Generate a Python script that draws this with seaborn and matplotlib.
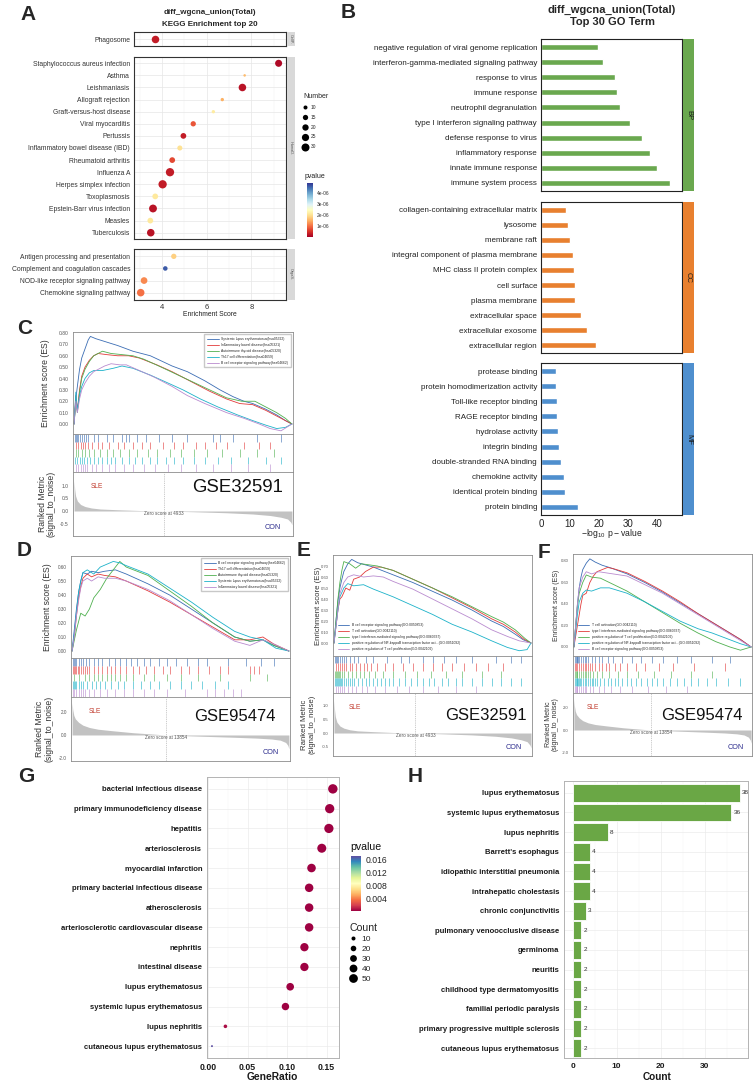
import numpy as np
import pandas as pd
import matplotlib
matplotlib.use("Agg")
import matplotlib.pyplot as plt
import seaborn as sns
from matplotlib.lines import Line2D
from matplotlib.colors import Normalize
from matplotlib.cm import ScalarMappable

W, H = 756, 1084

# ---------------- A: KEGG enrichment top 20 (faceted dot plot)
kegg_terms = ["Phagosome",
              "Staphylococcus aureus infection", "Asthma", "Leishmaniasis", "Allograft rejection",
              "Graft-versus-host disease", "Viral myocarditis", "Pertussis",
              "Inflammatory bowel disease (IBD)", "Rheumatoid arthritis", "Influenza A",
              "Herpes simplex infection", "Toxoplasmosis", "Epstein-Barr virus infection", "Measles",
              "Tuberculosis",
              "Antigen processing and presentation", "Complement and coagulation cascades",
              "NOD-like receptor signaling pathway", "Chemokine signaling pathway"]
kegg_group = ["CellP."] + ["HumaD."] * 15 + ["OrgaS."] * 4
kegg_score = [3.69, 9.22, 7.70, 7.60, 6.70, 6.30, 5.40, 4.96, 4.80, 4.46, 4.36, 4.03, 3.70, 3.60,
              3.48, 3.50, 4.53, 4.15, 3.20, 3.05]
kegg_number = [27, 24, 6, 27, 8, 8, 15, 17, 14, 17, 33, 32, 17, 29, 17, 27, 15, 12, 22, 27]
kegg_pvalue = [3e-7, 1e-7, 1.6e-6, 2e-7, 1.5e-6, 2.15e-6, 8e-7, 3e-7, 2.0e-6, 7e-7, 3e-7, 3e-7,
               2.1e-6, 2e-7, 2.1e-6, 2e-7, 1.8e-6, 4.6e-6, 1.2e-6, 1.0e-6]
number_breaks = [10, 15, 20, 25, 30]
kegg_p_ticks = [1e-6, 2e-6, 3e-6, 4e-6]

# ---------------- B: top 30 GO terms
go_terms = ["negative regulation of viral genome replication", "interferon-gamma-mediated signaling pathway",
            "response to virus", "immune response", "neutrophil degranulation",
            "type I interferon signaling pathway", "defense response to virus", "inflammatory response",
            "innate immune response", "immune system process",
            "collagen-containing extracellular matrix", "lysosome", "membrane raft",
            "integral component of plasma membrane", "MHC class II protein complex", "cell surface",
            "plasma membrane", "extracellular space", "extracellular exosome", "extracellular region",
            "protease binding", "protein homodimerization activity", "Toll-like receptor binding",
            "RAGE receptor binding", "hydrolase activity", "integrin binding",
            "double-stranded RNA binding", "chemokine activity", "identical protein binding",
            "protein binding"]
go_ont = ["BP"] * 10 + ["CC"] * 10 + ["MF"] * 10
go_logp = [19.5, 21.5, 25.6, 26.1, 27.2, 30.8, 34.8, 37.7, 39.9, 44.5,
           8.5, 9.3, 10.0, 11.1, 11.4, 11.6, 11.7, 13.7, 16.0, 18.9,
           5.2, 5.3, 5.4, 5.5, 6.0, 6.2, 7.0, 7.9, 8.2, 12.7]

# ---------------- C-F: GSEA (x = position in ranked gene list, %)
c_names = ["Systemic lupus erythematosus(hsa05322)", "Inflammatory bowel disease(hsa05321)",
           "Autoimmune thyroid disease(hsa05320)", "Th17 cell differentiation(hsa04659)",
           "B cell receptor signaling pathway(hsa04662)"]
c_es_x = [[0, 0.8, 1.5, 2.5, 3.5, 5, 6.5, 7.5, 10, 15, 20, 27, 35, 45, 52, 60, 67, 73, 78, 82, 88, 93, 97, 100],
          [0, 0.8, 1.5, 2.5, 3.5, 5, 7, 9, 11, 15, 20, 25, 30, 38, 45, 52, 62, 70, 76, 82, 88, 93, 97, 100],
          [0, 0.8, 1.5, 2.5, 3.5, 5, 7, 9, 11, 13, 17, 22, 27, 32, 40, 50, 60, 70, 77, 83, 88, 93, 97, 100],
          [0, 0.8, 1.5, 2.5, 3.5, 5, 7, 9, 13, 18, 22, 27, 35, 42, 50, 58, 66, 75, 82, 88, 93, 97, 100],
          [0, 0.8, 1.5, 2.5, 3.5, 5, 7, 9, 11, 14, 17, 21, 24, 30, 37, 45, 52, 60, 70, 78, 85, 90, 95, 100]]
c_es_y = [[0, 0.22, 0.33, 0.48, 0.58, 0.66, 0.74, 0.77, 0.75, 0.72, 0.69, 0.64, 0.6, 0.51, 0.46, 0.38, 0.3, 0.24, 0.2, 0.18, 0.13, 0.08, 0.03, 0],
          [0, 0.25, 0.12, 0.3, 0.42, 0.5, 0.56, 0.6, 0.62, 0.61, 0.6, 0.6, 0.58, 0.52, 0.46, 0.39, 0.29, 0.22, 0.18, 0.17, 0.12, 0.07, 0.03, 0],
          [0, 0.2, 0.1, 0.28, 0.4, 0.48, 0.55, 0.6, 0.62, 0.64, 0.62, 0.61, 0.6, 0.57, 0.5, 0.41, 0.32, 0.23, 0.2, 0.2, 0.15, 0.1, 0.05, 0],
          [0, 0.28, 0.12, 0.25, 0.33, 0.4, 0.45, 0.47, 0.47, 0.49, 0.51, 0.49, 0.43, 0.37, 0.3, 0.22, 0.15, 0.08, 0.03, -0.01, -0.04, -0.03, 0],
          [0, 0.2, 0.1, 0.22, 0.3, 0.36, 0.42, 0.46, 0.48, 0.51, 0.53, 0.52, 0.52, 0.47, 0.41, 0.33, 0.25, 0.18, 0.1, 0.05, 0.0, -0.04, -0.06, 0]]
c_hits = [[0.5, 1, 1.5, 2, 2.8, 3.5, 4.5, 5.5, 6.5, 9, 11, 15, 18, 22, 24, 25, 29, 33, 39, 45, 52, 64, 67, 73, 84, 95],
          [1, 2, 3, 4, 5, 6.5, 8, 11, 13, 16, 20, 23, 27, 31, 35, 41, 46, 50, 56, 60, 65, 70, 78, 85, 90],
          [1, 2, 3.5, 5, 7, 9, 12, 15, 18, 21, 25, 29, 34, 38, 44, 49, 55, 61, 68, 76, 84, 92],
          [0.5, 1.5, 2.5, 3.5, 4.5, 6, 7.5, 9, 11, 13, 15, 17, 19, 22, 25, 28, 31, 35, 38, 42, 46, 50, 55, 60, 66, 72, 80, 88, 95],
          [1, 2, 3, 4, 5, 6, 8, 10, 13, 16, 19, 23, 27, 32, 37, 43, 49, 56, 64, 72, 80, 90]]

d_names = ["B cell receptor signaling pathway(hsa04662)", "Th17 cell differentiation(hsa04659)",
           "Autoimmune thyroid disease(hsa05320)", "Systemic lupus erythematosus(hsa05322)",
           "Inflammatory bowel disease(hsa05321)"]
d_es_x = [[0, 1, 2, 3, 4, 5, 7, 9, 12, 15, 20, 25, 35, 45, 55, 65, 75, 82, 88, 93, 100],
          [0, 1, 2, 3, 4, 5, 7, 9, 12, 15, 20, 25, 35, 45, 55, 65, 75, 82, 88, 93, 100],
          [0, 2, 4, 6, 8, 10, 13, 16, 19, 22, 25, 35, 45, 55, 65, 75, 82, 88, 93, 100],
          [0, 1, 2, 3, 4, 5, 7, 10, 13, 16, 19, 22, 25, 35, 45, 55, 65, 75, 82, 88, 94, 100],
          [0, 1, 2, 3, 4, 5, 7, 9, 12, 15, 20, 25, 35, 45, 55, 65, 75, 82, 88, 93, 100]]
d_es_y = [[0, 0.15, 0.3, 0.42, 0.5, 0.56, 0.55, 0.57, 0.56, 0.57, 0.58, 0.55, 0.48, 0.4, 0.3, 0.2, 0.1, 0.07, 0.08, 0.04, 0],
          [0, 0.1, 0.25, 0.38, 0.46, 0.52, 0.55, 0.53, 0.55, 0.54, 0.53, 0.5, 0.43, 0.35, 0.26, 0.17, 0.08, 0.08, 0.1, 0.05, 0],
          [0, 0.15, 0.27, 0.25, 0.3, 0.38, 0.44, 0.52, 0.58, 0.64, 0.6, 0.54, 0.43, 0.32, 0.2, 0.1, 0.07, 0.08, 0.04, 0],
          [0, 0.12, 0.28, 0.42, 0.5, 0.56, 0.58, 0.55, 0.6, 0.62, 0.64, 0.63, 0.61, 0.55, 0.45, 0.35, 0.24, 0.14, 0.1, 0.08, 0.02, 0],
          [0, 0.1, 0.25, 0.36, 0.45, 0.5, 0.52, 0.5, 0.53, 0.52, 0.52, 0.5, 0.44, 0.36, 0.26, 0.16, 0.07, 0.04, 0.08, 0.05, 0]]
d_hits = [[0.5, 1, 1.5, 2, 3, 4, 5, 6.5, 8, 10, 12, 14, 17, 20, 22, 25, 27, 30, 33, 36, 40, 44, 48, 53, 58, 62, 72, 80, 87, 93],
          [0.5, 1, 1.5, 2, 2.5, 3, 4, 5, 6, 7, 8, 10, 12, 14, 16, 18, 20, 22, 25, 28, 31, 34, 38, 42, 45, 50, 54, 58, 63, 68, 72, 82, 84, 86],
          [1, 3, 6, 8, 10, 12, 14, 16, 18, 20, 22, 25, 28, 33, 38, 44, 50, 58, 68, 82, 90],
          [0.5, 1, 1.5, 2, 3, 4, 5, 7, 9, 11, 13, 15, 18, 21, 24, 28, 32, 36, 40, 45, 50, 55, 60, 66, 72],
          [0.5, 1, 2, 3, 4, 5, 6, 8, 10, 13, 16, 20, 24, 28, 33, 38, 44, 52, 62, 66, 70, 74, 78]]

e_names = ["B cell receptor signaling pathway(GO:0050853)", "T cell activation(GO:0042110)",
           "type I interferon-mediated signaling pathway(GO:0060337)",
           "positive regulation of NF-kappaB transcription factor act...(GO:0051092)",
           "positive regulation of T cell proliferation(GO:0042102)"]
e_es_x = [[0, 1, 2, 3, 4, 5, 7, 9, 12, 16, 20, 30, 40, 50, 60, 70, 80, 86, 92, 96, 100],
          [0, 1, 2, 3, 4, 6, 8, 10, 13, 16, 20, 24, 30, 40, 50, 60, 70, 80, 86, 92, 96, 100],
          [0, 1, 2, 3, 4, 5, 8, 11, 14, 18, 22, 30, 40, 50, 60, 70, 80, 86, 92, 97, 100],
          [0, 1, 2, 3, 5, 7, 10, 15, 20, 30, 40, 50, 60, 70, 80, 88, 94, 98, 100],
          [0, 1, 2, 3, 5, 7, 10, 15, 20, 25, 30, 40, 50, 60, 70, 80, 88, 94, 100]]
e_es_y = [[0, 0.2, 0.38, 0.5, 0.58, 0.65, 0.72, 0.76, 0.73, 0.71, 0.69, 0.62, 0.55, 0.47, 0.39, 0.3, 0.2, 0.15, 0.08, 0.03, 0],
          [0, 0.15, 0.3, 0.4, 0.42, 0.5, 0.48, 0.58, 0.6, 0.65, 0.69, 0.69, 0.66, 0.58, 0.5, 0.41, 0.32, 0.22, 0.17, 0.1, 0.04, 0],
          [0, 0.2, 0.4, 0.55, 0.66, 0.74, 0.72, 0.68, 0.72, 0.71, 0.7, 0.66, 0.58, 0.5, 0.42, 0.33, 0.24, 0.19, 0.12, 0.04, 0],
          [0, 0.15, 0.3, 0.42, 0.5, 0.54, 0.52, 0.53, 0.49, 0.42, 0.34, 0.26, 0.17, 0.1, 0.02, -0.04, -0.07, -0.06, 0],
          [0, 0.15, 0.3, 0.45, 0.55, 0.6, 0.62, 0.6, 0.61, 0.6, 0.56, 0.49, 0.4, 0.31, 0.22, 0.12, 0.06, 0.02, 0]]
e_hits = [[0.5, 1, 1.5, 2, 3, 4, 5, 6, 8, 10, 12, 16, 20, 27, 34, 38, 45, 50, 56, 62, 70, 82, 90, 95],
          [1, 2, 3, 4, 5, 6, 8, 9, 11, 13, 15, 17, 19, 22, 26, 30, 35, 40, 45, 50, 55, 60, 66, 72, 78, 86],
          [0.5, 1, 1.5, 2, 2.5, 3, 4, 5, 7, 9, 11, 13, 15, 18, 21, 25, 30, 36, 42, 49, 57, 65, 75, 85],
          [0.5, 1, 1.5, 2, 2.5, 3, 3.5, 4, 5, 6, 7, 8, 9, 10, 12, 14, 16, 18, 20, 22, 24, 26, 28, 30, 33, 36, 39, 42, 45, 48, 51, 55, 58, 62, 65, 70, 75, 80, 85, 90, 95],
          [1, 2, 3, 4, 5, 7, 9, 11, 14, 17, 21, 26, 32, 38, 45, 53, 62, 72]]

f_names = ["T cell activation(GO:0042110)", "type I interferon-mediated signaling pathway(GO:0060337)",
           "positive regulation of T cell proliferation(GO:0042102)",
           "positive regulation of NF-kappaB transcription factor act...(GO:0051092)",
           "B cell receptor signaling pathway(GO:0050853)"]
f_es_x = [[0, 1, 2, 3, 4, 5, 7, 9, 12, 16, 20, 30, 40, 50, 60, 70, 80, 88, 94, 100],
          [0, 1, 2, 3, 4, 5, 7, 9, 11, 13, 16, 19, 22, 30, 40, 50, 60, 70, 80, 88, 94, 100],
          [0, 1, 2, 3, 5, 7, 10, 15, 20, 30, 40, 50, 60, 70, 80, 88, 94, 100],
          [0, 1, 2, 3, 5, 7, 10, 15, 20, 30, 40, 50, 60, 70, 78, 86, 94, 100],
          [0, 1, 2, 3, 5, 7, 10, 14, 18, 22, 30, 40, 50, 60, 70, 80, 88, 94, 100]]
f_es_y = [[0, 0.2, 0.4, 0.55, 0.65, 0.72, 0.78, 0.82, 0.79, 0.76, 0.74, 0.68, 0.6, 0.51, 0.41, 0.31, 0.21, 0.13, 0.07, 0],
          [0, 0.1, 0.2, 0.3, 0.4, 0.48, 0.5, 0.6, 0.66, 0.7, 0.72, 0.74, 0.73, 0.69, 0.61, 0.52, 0.42, 0.31, 0.21, 0.13, 0.07, 0],
          [0, 0.2, 0.38, 0.5, 0.6, 0.67, 0.65, 0.64, 0.6, 0.52, 0.42, 0.32, 0.22, 0.13, 0.05, 0.0, -0.03, 0],
          [0, 0.15, 0.3, 0.42, 0.5, 0.53, 0.52, 0.55, 0.55, 0.5, 0.42, 0.33, 0.24, 0.17, 0.13, 0.08, 0.03, 0],
          [0, 0.2, 0.4, 0.55, 0.65, 0.7, 0.68, 0.7, 0.69, 0.68, 0.66, 0.58, 0.5, 0.4, 0.3, 0.2, 0.12, 0.06, 0]]
f_hits = [[0.5, 1, 1.5, 2, 2.5, 3, 4, 5, 6, 7, 8, 10, 12, 14, 16, 19, 22, 27, 33, 38, 44, 50, 58, 66, 78, 88],
          [0.5, 1, 2, 3, 4, 5, 6, 7, 8, 9, 10, 12, 14, 16, 18, 20, 23, 26, 30, 35, 40, 48, 56, 68, 85],
          [0.5, 1, 1.5, 2, 3, 4, 5, 6, 7, 8, 9, 11, 13, 16, 20, 25, 30, 36, 45, 55, 66, 78],
          [0.5, 1, 1.5, 2, 2.5, 3, 3.5, 4, 5, 6, 7, 8, 9, 10, 11, 12, 13, 15, 17, 19, 21, 23, 25, 27, 30, 32, 35, 38, 41, 44, 47, 50, 54, 58, 62, 66, 70, 75, 80, 87, 94],
          [0.5, 1, 1.5, 2, 3, 4, 5, 6, 7, 9, 11, 14, 17, 21, 26, 33, 42, 52, 64]]

# ranked metric (signal_to_noise) of the two datasets
rank_x_32591 = [0, 0.3, 0.7, 1.5, 3, 5, 8, 12, 20, 30, 41.3, 55, 70, 82, 90, 95, 98, 99.5, 100]
rank_y_32591 = [1.2, 0.85, 0.6, 0.4, 0.26, 0.18, 0.12, 0.08, 0.05, 0.02, 0, -0.03, -0.07, -0.12, -0.18, -0.25, -0.32, -0.45, -0.55]
zero_32591 = 41.3
rank_x_95474 = [0, 0.3, 0.8, 1.5, 3, 5, 8, 12, 18, 28, 43.4, 55, 65, 75, 85, 92, 96, 98.5, 99.5, 100]
rank_y_95474 = [2.8, 2.2, 1.7, 1.4, 1.1, 0.85, 0.65, 0.5, 0.38, 0.2, 0, -0.08, -0.14, -0.2, -0.27, -0.35, -0.45, -0.65, -0.9, -1.2]
zero_95474 = 43.4

# ---------------- G: disease enrichment dot plot
do_terms = ["bacterial infectious disease", "primary immunodeficiency disease", "hepatitis",
            "arteriosclerosis", "myocardial infarction", "primary bacterial infectious disease",
            "atherosclerosis", "arteriosclerotic cardiovascular disease", "nephritis",
            "intestinal disease", "lupus erythematosus", "systemic lupus erythematosus",
            "lupus nephritis", "cutaneous lupus erythematosus"]
do_ratio = [0.158, 0.154, 0.153, 0.144, 0.131, 0.128, 0.128, 0.128, 0.122, 0.122, 0.104, 0.098, 0.022, 0.005]
do_count = [58, 56, 56, 53, 48, 47, 47, 47, 45, 45, 38, 36, 8, 2]
do_pvalue = [1e-9, 1e-9, 1e-9, 2e-9, 5e-9, 5e-9, 5e-9, 5e-9, 1e-8, 1e-8, 1e-9, 1e-9, 4e-4, 0.0172]
count_breaks = [10, 20, 30, 40, 50]
do_p_ticks = [0.004, 0.008, 0.012, 0.016]

# ---------------- H: disease gene counts
h_terms = ["lupus erythematosus", "systemic lupus erythematosus", "lupus nephritis", "Barrett's esophagus",
           "idiopathic interstitial pneumonia", "intrahepatic cholestasis", "chronic conjunctivitis",
           "pulmonary venoocclusive disease", "germinoma", "neuritis", "childhood type dermatomyositis",
           "familial periodic paralysis", "primary progressive multiple sclerosis",
           "cutaneous lupus erythematosus"]
h_counts = [38, 36, 8, 4, 4, 4, 3, 2, 2, 2, 2, 2, 2, 2]

sns.set_style("white")
plt.rcParams["font.family"] = ["Liberation Sans", "DejaVu Sans"]
plt.rcParams["mathtext.fontset"] = "custom"
plt.rcParams["mathtext.rm"] = "Liberation Sans"

fig = plt.figure(figsize=(W / 100, H / 100), dpi=100)


def px_ax(l, t, r, b):
    # axes from pixel box (left, top, right, bottom)
    return fig.add_axes([l / W, 1 - b / H, (r - l) / W, (b - t) / H])


def ptext(x, y, s, **kw):
    kw.setdefault("ha", "center")
    kw.setdefault("va", "center")
    return fig.text(x / W, 1 - y / H, s, **kw)


def dot_area(v, lo, hi, smin, smax):
    return smin + (v - lo) / (hi - lo) * (smax - smin)


# ================= A
kegg = pd.DataFrame({"term": kegg_terms, "group": kegg_group, "score": kegg_score,
                     "Number": kegg_number, "pvalue": kegg_pvalue})
a_boxes = [("CellP.", 32, 46), ("HumaD.", 57, 239), ("OrgaS.", 249, 300)]
for k, (g, t, b) in enumerate(a_boxes):
    sub = kegg[kegg["group"] == g]
    ax = px_ax(134, t, 286, b)
    sns.scatterplot(data=sub, x="score", y="term", size="Number", sizes=(2.1, 35.7), size_norm=(5, 32),
                    hue="pvalue", palette="RdYlBu", hue_norm=(0, 4.9e-6), legend=False,
                    linewidth=0, zorder=3, ax=ax)
    n = len(sub)
    pad = ((b - t) / 12.1 - (n - 1)) / 2
    ax.set_ylim(n - 1 + pad, -pad)
    ax.set_xlim(2.75, 9.55)
    ax.set_xticks([4, 6, 8])
    ax.set_xticks([3, 5, 7, 9], minor=True)
    ax.set_axisbelow(True)
    ax.grid(True, which="major", color="#e6e6e6", lw=0.5)
    ax.grid(True, which="minor", axis="x", color="#f2f2f2", lw=0.35)
    ax.set_xlabel("")
    ax.set_ylabel("")
    ax.tick_params(axis="y", labelsize=4.9, length=1.8, width=0.5, pad=1, colors="#333333")
    ax.tick_params(axis="x", which="both", labelsize=5.5, length=1.8, width=0.5, pad=1, colors="#333333")
    ax.tick_params(axis="x", which="minor", length=0)
    if k < 2:
        ax.tick_params(axis="x", which="both", labelbottom=False, length=0)
    for s in ax.spines.values():
        s.set_color("#333333")
        s.set_linewidth(0.8)
    st = px_ax(287, t, 295, b)
    st.set_facecolor("#d9d9d9")
    st.set_xticks([])
    st.set_yticks([])
    for s in st.spines.values():
        s.set_visible(False)
    st.text(0.5, 0.5, g, rotation=270, ha="center", va="center", fontsize=2.8, color="#555555",
            transform=st.transAxes)

ptext(210, 13, "diff_wgcna_union(Total)", fontsize=5.8, weight="bold")
ptext(210, 24, "KEGG Enrichment top 20", fontsize=5.8, weight="bold")
ptext(210, 314, "Enrichment Score", fontsize=4.9, color="#222222")

a_handles = [Line2D([], [], ls="none", marker="o", color="black", markeredgewidth=0,
                    markersize=np.sqrt(dot_area(v, 5, 32, 2.1, 35.7))) for v in number_breaks]
leg = fig.legend(a_handles, [str(v) for v in number_breaks], title="Number", loc="upper left",
                 bbox_to_anchor=(303 / W, 1 - 93 / H), frameon=False, fontsize=3.5, title_fontsize=5,
                 labelspacing=1.0, handlelength=1.0, handletextpad=0.6, borderpad=0, borderaxespad=0)
leg._legend_box.align = "left"

cax = px_ax(307, 183, 313, 237)
cb = fig.colorbar(ScalarMappable(norm=Normalize(0, 4.9e-6), cmap="RdYlBu"), cax=cax)
cb.set_ticks(kegg_p_ticks)
cb.set_ticklabels(["%.0e" % v for v in kegg_p_ticks])
cb.ax.tick_params(labelsize=3.5, length=1.5, width=0.4, color="white", pad=1, labelcolor="#333333")
cb.outline.set_visible(False)
ptext(305, 176, "pvalue", fontsize=5, ha="left", color="#222222")

# ================= B
go = pd.DataFrame({"term": go_terms, "ont": go_ont, "logp": go_logp})
go_colors = {"BP": "#6aa84f", "CC": "#e8802f", "MF": "#4f8fce"}
b_boxes = [("BP", 39, 191), ("CC", 202, 353), ("MF", 363, 515)]
for k, (o, t, b) in enumerate(b_boxes):
    sub = go[go["ont"] == o]
    ax = px_ax(541, t, 682, b)
    sns.barplot(data=sub, x="logp", y="term", order=list(sub["term"]), color=go_colors[o],
                saturation=1, width=0.4, ax=ax)
    n = len(sub)
    pad = ((b - t) / 15.1 - (n - 1)) / 2
    ax.set_ylim(n - 1 + pad, -pad)
    ax.set_xlim(0, 48.6)
    ax.set_xlabel("")
    ax.set_ylabel("")
    ax.tick_params(axis="y", labelsize=5.8, length=1.8, width=0.5, pad=1, colors="#222222")
    ax.tick_params(axis="x", labelsize=7, length=1.8, width=0.5, pad=1, colors="#222222")
    ax.set_xticks([0, 10, 20, 30, 40])
    if k < 2:
        ax.tick_params(axis="x", labelbottom=False, length=0)
    for s in ax.spines.values():
        s.set_color("#222222")
        s.set_linewidth(0.8)
    st = px_ax(683, t, 694, b)
    st.set_facecolor(go_colors[o])
    st.set_xticks([])
    st.set_yticks([])
    for s in st.spines.values():
        s.set_visible(False)
    st.text(0.5, 0.5, o, rotation=270, ha="center", va="center", fontsize=5.5, color="#1a1a1a",
            transform=st.transAxes)

ptext(612, 10, "diff_wgcna_union(Total)", fontsize=8, weight="bold")
ptext(612, 22, "Top 30 GO Term", fontsize=8, weight="bold")
ptext(612, 534, r"$\mathregular{-log_{10}\ p-value}$", fontsize=6.2, color="#222222")

# ================= C-F GSEA panels
gsea_colors = ["#3b6db4", "#e23b3b", "#4fb04f", "#1cb2c9", "#b98bcf"]


def gsea_panel(box, names, es_x, es_y, hits, rx, ry, zero, zero_txt, gse, es_lim, es_ticks,
               r_lim, r_ticks, tfs, leg_loc, leg_frame, lab_x, lab_fs, gse_xy, gse_fs):
    l, t1, t2, t3, r, b = box
    ax1 = px_ax(l, t1, r, t2)
    for i in range(5):
        sns.lineplot(x=es_x[i], y=es_y[i], color=gsea_colors[i], linewidth=0.6, label=names[i],
                     estimator=None, sort=False, ax=ax1)
    ax1.set_xlim(-0.5, 100.5)
    ax1.set_ylim(*es_lim)
    ax1.set_xticks([])
    ax1.set_yticks(es_ticks)
    ax1.set_yticklabels(["%.2f" % v for v in es_ticks])
    ax1.set_xlabel("")
    ax1.set_ylabel("")
    ax1.tick_params(axis="y", labelsize=tfs, length=1.5, width=0.4, pad=1.5, colors="#555555")
    ax1.legend(loc=leg_loc, fontsize=2.4, frameon=leg_frame, fancybox=False, edgecolor="#bbbbbb",
               handlelength=3.5, borderpad=0.8, labelspacing=0.6, borderaxespad=0.6)

    ax2 = px_ax(l, t2, r, t3)
    for i in range(5):
        ax2.vlines(hits[i], i, i + 1, colors=gsea_colors[i], linewidth=0.55, alpha=0.75)
    ax2.set_xlim(-0.5, 100.5)
    ax2.set_ylim(5, 0)
    ax2.set_xticks([])
    ax2.set_yticks([])

    ax3 = px_ax(l, t3, r, b)
    ax3.fill_between(rx, ry, 0, color="#c2c2c2", linewidth=0)
    ax3.axvline(zero, color="#b0b0b0", lw=0.45, ls=(0, (2, 1.5)))
    ax3.set_xlim(-0.5, 100.5)
    ax3.set_ylim(*r_lim)
    ax3.set_xticks([])
    ax3.set_yticks(r_ticks)
    ax3.set_yticklabels(["%.1f" % v for v in r_ticks])
    ax3.tick_params(axis="y", labelsize=tfs, length=1.5, width=0.4, pad=1.5, colors="#555555")
    ax3.text(zero, 0, zero_txt, ha="center", va="top", fontsize=3.3, color="#555555")
    ax3.text(0.11, 0.77, "SLE", transform=ax3.transAxes, ha="center", va="center", fontsize=4.8,
             color="#c0392b")
    ax3.text(0.91, 0.14, "CON", transform=ax3.transAxes, ha="center", va="center", fontsize=5.2,
             color="#2b2b8c")
    ax3.text(gse_xy[0], gse_xy[1], gse, transform=ax3.transAxes, ha="right", va="center",
             fontsize=gse_fs, color="#111111")
    for a in (ax1, ax2, ax3):
        for s in a.spines.values():
            s.set_color("#8c8c8c")
            s.set_linewidth(0.6)
    ptext(lab_x[0], (t1 + t2) / 2, "Enrichment score (ES)", rotation=90, fontsize=lab_fs, color="#333333")
    ptext(lab_x[1], (t3 + b) / 2, "Ranked Metric\n(signal_to_noise)", rotation=90, fontsize=lab_fs,
          color="#333333", linespacing=1.0)


gsea_panel((73, 332, 434, 472, 293, 536), c_names, c_es_x, c_es_y, c_hits, rank_x_32591, rank_y_32591,
           zero_32591, "Zero score at 4933", "GSE32591", (-0.088, 0.809), [0, .1, .2, .3, .4, .5, .6, .7, .8],
           (-1.0, 1.56), [-0.5, 0, 0.5, 1.0], 3.6, "upper right", True, (45, 47), 6.2, (0.955, 0.75), 13.4)
gsea_panel((71, 556, 658, 697, 290, 761), d_names, d_es_x, d_es_y, d_hits, rank_x_95474, rank_y_95474,
           zero_95474, "Zero score at 13854", "GSE95474", (-0.05, 0.679), [0, .1, .2, .3, .4, .5, .6],
           (-2.26, 3.3), [-2.0, 0, 2.0], 3.3, "upper right", True, (47, 44), 6.2, (0.936, 0.69), 12)
gsea_panel((333, 555, 656, 693, 532, 756), e_names, e_es_x, e_es_y, e_hits, rank_x_32591, rank_y_32591,
           zero_32591, "Zero score at 4933", "GSE32591", (-0.118, 0.8), [0, .1, .2, .3, .4, .5, .6, .7],
           (-0.85, 1.48), [-0.5, 0, 0.5, 1.0], 3.0, "lower left", False, (318, 308), 5.6, (0.975, 0.635), 12)
gsea_panel((573, 554, 656, 693, 752, 756), f_names, f_es_x, f_es_y, f_hits, rank_x_95474, rank_y_95474,
           zero_95474, "Zero score at 13854", "GSE95474", (-0.084, 0.865), [0, .2, .4, .6, .8],
           (-2.36, 3.36), [-2.0, 0, 2.0], 3.0, "lower left", False, (557, 552), 5.0, (0.95, 0.635), 12)

# ================= G
do = pd.DataFrame({"term": do_terms, "GeneRatio": do_ratio, "Count": do_count, "pvalue": do_pvalue})
ax = px_ax(207, 777, 339, 1058)
sns.scatterplot(data=do, x="GeneRatio", y="term", size="Count", sizes=(2, 46), size_norm=(2, 58),
                hue="pvalue", palette="Spectral", hue_norm=(0, 0.0172), legend=False, linewidth=0,
                zorder=3, ax=ax)
ax.set_ylim(len(do) - 1 + 0.6, -0.6)
ax.set_xlim(-0.0013, 0.1658)
ax.set_xticks([0, 0.05, 0.10, 0.15])
ax.set_xticklabels(["0.00", "0.05", "0.10", "0.15"])
ax.set_xticks([0.025, 0.075, 0.125], minor=True)
ax.set_axisbelow(True)
ax.grid(True, which="major", color="#ebebeb", lw=0.5)
ax.grid(True, which="minor", axis="x", color="#f4f4f4", lw=0.35)
ax.set_ylabel("")
ax.set_xlabel("")
ax.tick_params(axis="both", which="major", length=2, width=0.5, pad=1.5, color="#666666")
ax.tick_params(axis="y", labelsize=5.5)
ax.tick_params(axis="x", labelsize=6.3)
ax.tick_params(axis="x", which="minor", length=0)
for lab in ax.get_yticklabels() + ax.get_xticklabels():
    lab.set_fontweight("bold")
    lab.set_color("#1a1a1a")
for s in ax.spines.values():
    s.set_color("#b3b3b3")
    s.set_linewidth(0.7)
ptext(272, 1077, "GeneRatio", fontsize=7.4, weight="bold", color="#1a1a1a")

cax = px_ax(351, 856, 361, 911)
cb = fig.colorbar(ScalarMappable(norm=Normalize(0, 0.0172), cmap="Spectral"), cax=cax)
cb.set_ticks(do_p_ticks)
cb.set_ticklabels(["%.3f" % v for v in do_p_ticks])
cb.ax.tick_params(labelsize=6.2, length=2, width=0.5, color="white", pad=1.5, labelcolor="#222222")
cb.outline.set_visible(False)
ptext(350, 847, "pvalue", fontsize=7.6, ha="left", color="#111111")

g_handles = [Line2D([], [], ls="none", marker="o", color="black", markeredgewidth=0,
                    markersize=np.sqrt(dot_area(v, 2, 58, 2, 46))) for v in count_breaks]
leg = fig.legend(g_handles, [str(v) for v in count_breaks], title="Count", loc="upper left",
                 bbox_to_anchor=(349 / W, 1 - 923 / H), frameon=False, fontsize=6, title_fontsize=7.6,
                 labelspacing=0.25, handlelength=1.0, handletextpad=0.5, borderpad=0, borderaxespad=0)
leg._legend_box.align = "left"

# ================= H
hd = pd.DataFrame({"term": h_terms, "Count": h_counts})
ax = px_ax(564, 781, 748, 1058)
sns.barplot(data=hd, x="Count", y="term", order=h_terms, color="#6aa745", saturation=1, width=0.9,
            edgecolor="white", linewidth=0.6, ax=ax)
ax.set_ylim(len(hd) - 1 + 0.5, -0.6)
ax.set_xlim(-1.95, 39.8)
ax.set_xticks([0, 10, 20, 30])
ax.set_xticks([5, 15, 25, 35], minor=True)
ax.set_axisbelow(True)
ax.grid(True, which="major", color="#ebebeb", lw=0.5)
ax.grid(True, which="minor", axis="x", color="#f4f4f4", lw=0.35)
ax.set_ylabel("")
ax.set_xlabel("")
ax.tick_params(axis="both", which="major", length=2, width=0.5, pad=1.5, color="#666666")
ax.tick_params(axis="y", labelsize=5.5)
ax.tick_params(axis="x", labelsize=6.0)
ax.tick_params(axis="x", which="minor", length=0)
for lab in ax.get_yticklabels() + ax.get_xticklabels():
    lab.set_fontweight("bold")
    lab.set_color("#1a1a1a")
for s in ax.spines.values():
    s.set_color("#b3b3b3")
    s.set_linewidth(0.7)
for t in ax.bar_label(ax.containers[0], padding=1.5, fontsize=4.6, color="#333333"):
    t.set_clip_on(True)
ptext(657, 1077, "Count", fontsize=7.2, weight="bold", color="#1a1a1a")

# panel letters
for letter, x, y in [("A", 28, 15), ("B", 348, 12), ("C", 25, 328), ("D", 24, 550),
                     ("E", 304, 550), ("F", 544, 553), ("G", 26, 777), ("H", 415, 777)]:
    ptext(x, y, letter, fontsize=15, weight="bold")

fig.savefig("out.png", dpi=100)
